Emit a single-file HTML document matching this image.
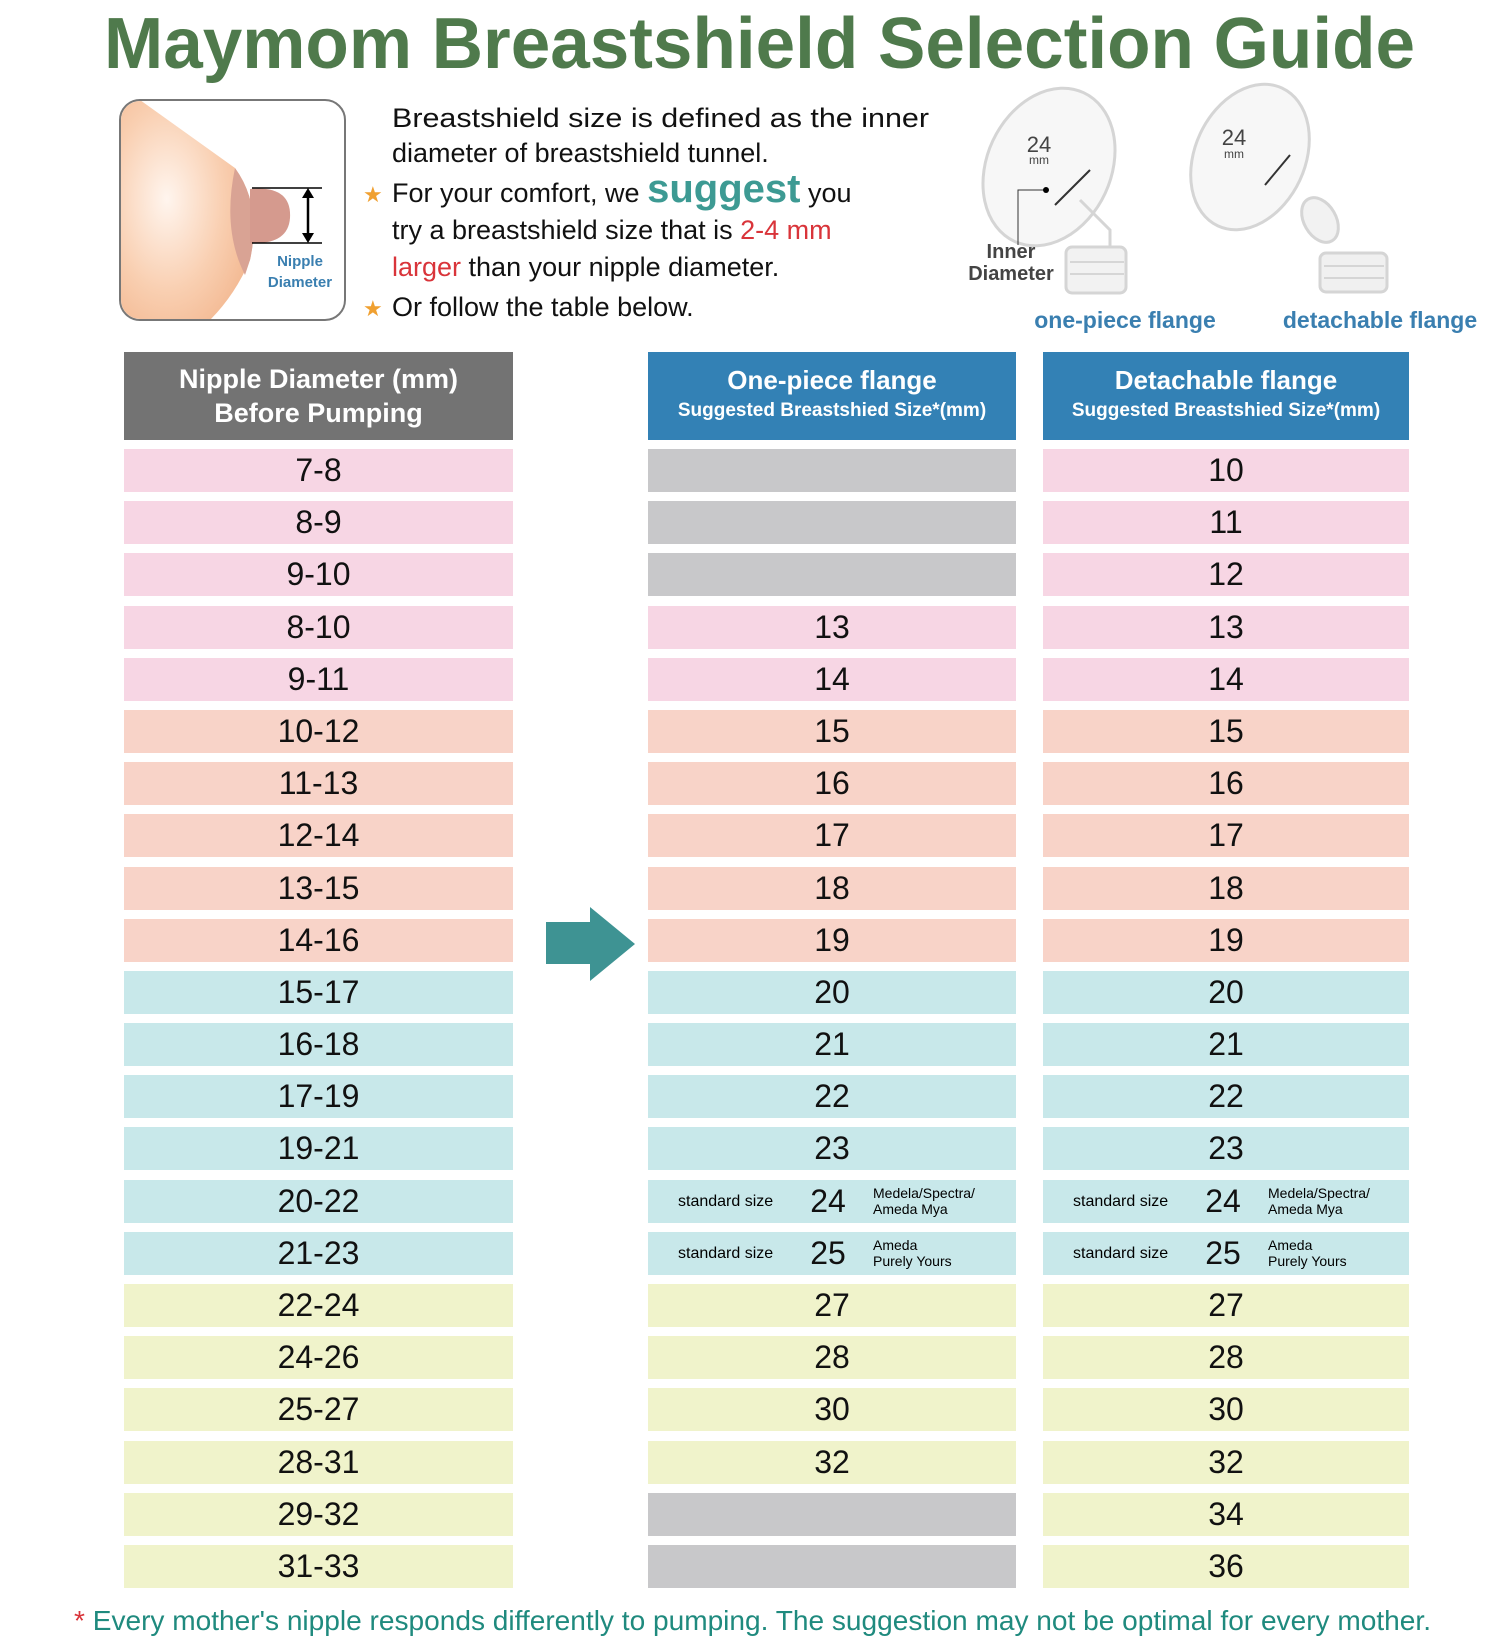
<!DOCTYPE html>
<html><head><meta charset="utf-8"><style>
body{margin:0;width:1500px;height:1645px;background:#fff;position:relative;overflow:hidden;font-family:"Liberation Sans",sans-serif}
.c{position:absolute;height:43px;line-height:43px;text-align:center;font-size:32px;color:#111}
.h{position:absolute;color:#fff;font-weight:bold;text-align:center}
.pk{background:#f7d6e4}.sa{background:#f8d3c8}.bl{background:#c8e8ea}.ye{background:#f0f3cb}.gr{background:#c8c8ca}
.st{position:absolute;font-size:16px;line-height:43px}
.br{position:absolute;font-size:14px;line-height:16px;text-align:left}
</style></head><body>
<svg width="1500" height="345" style="position:absolute;left:0;top:0" xmlns="http://www.w3.org/2000/svg">
<defs>
<radialGradient id="g" cx="0.35" cy="0.45" r="0.7"><stop offset="0" stop-color="#fff5ee"/><stop offset="0.6" stop-color="#f9cfb1"/><stop offset="1" stop-color="#f3b891"/></radialGradient>
</defs>
<text x="104" y="68" textLength="1311" lengthAdjust="spacingAndGlyphs" font-family="Liberation Sans" font-weight="bold" font-size="72" fill="#4f7a4c">Maymom Breastshield Selection Guide</text>
<rect x="120" y="100" width="225" height="220" rx="20" fill="#fff" stroke="#777" stroke-width="2"/>
<clipPath id="cp"><rect x="121" y="101" width="223" height="218" rx="19"/></clipPath>
<g clip-path="url(#cp)">
<path d="M120 100 L140 100 L235 168 Q262 205 250 260 Q235 295 210 320 L120 320 Z" fill="url(#g)"/>
<path d="M235 168 Q262 205 250 260 L245 275 Q222 230 235 168 Z" fill="#d9a394"/>
<path d="M250 189 Q292 185 290 218 Q288 245 250 243 Z" fill="#d59a8e"/>
</g>
<line x1="252" y1="188" x2="322" y2="188" stroke="#000" stroke-width="1.5"/>
<line x1="252" y1="243" x2="322" y2="243" stroke="#000" stroke-width="1.5"/>
<line x1="308" y1="194" x2="308" y2="237" stroke="#000" stroke-width="2.5"/>
<path d="M302 198 L308 188 L314 198 Z M302 233 L308 243 L314 233 Z"/>
<text x="300" y="266" text-anchor="middle" font-size="15" font-weight="bold" fill="#3a7fb0">Nipple</text>
<text x="300" y="287" text-anchor="middle" font-size="15" font-weight="bold" fill="#3a7fb0">Diameter</text>
<g font-size="27" fill="#111">
<text x="392" y="127" textLength="537" lengthAdjust="spacingAndGlyphs">Breastshield size is defined as the inner</text>
<text x="392" y="162">diameter of breastshield tunnel.</text>
<text x="363" y="202" font-size="22" fill="#f0a030">★</text>
<text x="392" y="202">For your comfort, we <tspan font-size="40" font-weight="bold" fill="#3d9a93">suggest</tspan> you</text>
<text x="392" y="239">try a breastshield size that is <tspan fill="#d9343a">2-4 mm</tspan></text>
<text x="392" y="276"><tspan fill="#d9343a">larger</tspan> than your nipple diameter.</text>
<text x="363" y="316" font-size="22" fill="#f0a030">★</text>
<text x="392" y="316">Or follow the table below.</text>
</g>
<g fill="none" stroke="#d5d5d5" stroke-width="3">
<ellipse cx="1049" cy="167" rx="62" ry="82" transform="rotate(25 1049 167)" fill="#f7f7f7"/>
<path d="M1080 200 L1110 230 L1110 250"/>
<rect x="1066" y="247" width="60" height="46" rx="6" fill="#f2f2f2"/>
<ellipse cx="1250" cy="157" rx="55" ry="76" transform="rotate(25 1250 157)" fill="#f7f7f7"/>
<ellipse cx="1320" cy="220" rx="16" ry="24" transform="rotate(-30 1320 220)" fill="#f2f2f2"/>
<rect x="1320" y="253" width="67" height="39" rx="6" fill="#f0f0f0"/>
</g>
<g stroke="#ccc" stroke-width="1.5"><line x1="1070" y1="262" x2="1124" y2="262"/><line x1="1070" y1="274" x2="1124" y2="274"/><line x1="1324" y1="266" x2="1384" y2="266"/><line x1="1324" y1="278" x2="1384" y2="278"/></g>
<text x="1039" y="152" text-anchor="middle" font-size="22" fill="#444">24</text>
<text x="1039" y="164" text-anchor="middle" font-size="12" fill="#444">mm</text>
<text x="1234" y="145" text-anchor="middle" font-size="22" fill="#444">24</text>
<text x="1234" y="158" text-anchor="middle" font-size="12" fill="#444">mm</text>
<line x1="1055" y1="205" x2="1090" y2="170" stroke="#333" stroke-width="2"/>
<line x1="1265" y1="185" x2="1290" y2="155" stroke="#333" stroke-width="2"/>
<path d="M1045 190 L1018 190 L1018 245" fill="none" stroke="#333" stroke-width="1"/><circle cx="1046" cy="190" r="3"/>
<text x="1011" y="258" text-anchor="middle" font-size="20" font-weight="bold" fill="#444">Inner</text>
<text x="1011" y="280" text-anchor="middle" font-size="20" font-weight="bold" fill="#444">Diameter</text>
<text x="1125" y="328" text-anchor="middle" font-size="23" font-weight="bold" fill="#3a7fb0">one-piece flange</text>
<text x="1380" y="328" text-anchor="middle" font-size="23" font-weight="bold" fill="#3a7fb0">detachable flange</text>
</svg>

<div class="h" style="left:124px;top:352px;width:389px;height:88px;background:#737373;font-size:27px;line-height:34px;padding-top:10px;box-sizing:border-box">Nipple Diameter (mm)<br>Before Pumping</div>
<div class="h" style="left:648px;top:352px;width:368px;height:88px;background:#3381b5;box-sizing:border-box;padding-top:12px"><div style="font-size:26px;line-height:32px">One-piece flange</div><div style="font-size:19px;line-height:30px">Suggested Breastshied Size*(mm)</div></div>
<div class="h" style="left:1043px;top:352px;width:366px;height:88px;background:#3381b5;box-sizing:border-box;padding-top:12px"><div style="font-size:26px;line-height:32px">Detachable flange</div><div style="font-size:19px;line-height:30px">Suggested Breastshied Size*(mm)</div></div>

<svg width="100" height="80" style="position:absolute;left:540px;top:904px"><path d="M6 18 L50 18 L50 3 L95 40 L50 77 L50 60 L6 60 Z" fill="#3e9393"/></svg>

<div id="t"></div>
<script>
var L=["7-8","8-9","9-10","8-10","9-11","10-12","11-13","12-14","13-15","14-16","15-17","16-18","17-19","19-21","20-22","21-23","22-24","24-26","25-27","28-31","29-32","31-33"];
var O=["","","","13","14","15","16","17","18","19","20","21","22","23","24","25","27","28","30","32","",""];
var D=["10","11","12","13","14","15","16","17","18","19","20","21","22","23","24","25","27","28","30","32","34","36"];
function cls(i){return i<5?"pk":i<10?"sa":i<16?"bl":"ye";}
var h="";
for(var i=0;i<22;i++){
var y=Math.round(449+i*52.19);
h+='<div class="c '+cls(i)+'" style="left:124px;top:'+y+'px;width:389px">'+L[i]+'</div>';
var bd={14:["Medela/Spectra/","Ameda Mya"],15:["Ameda","Purely Yours"]};
[[648,368,O[i]],[1043,366,D[i]]].forEach(function(c){
var k=c[2]===""?"gr":cls(i);
if(bd[i]){
h+='<div class="c '+k+'" style="left:'+c[0]+'px;top:'+y+'px;width:'+c[1]+'px"></div>';
h+='<div class="st" style="left:'+(c[0]+30)+'px;top:'+y+'px">standard size</div>';
h+='<div class="c" style="left:'+(c[0]+155)+'px;top:'+y+'px;width:50px">'+c[2]+'</div>';
h+='<div class="br" style="left:'+(c[0]+225)+'px;top:'+(y+5)+'px">'+bd[i][0]+'<br>'+bd[i][1]+'</div>';
}else h+='<div class="c '+k+'" style="left:'+c[0]+'px;top:'+y+'px;width:'+c[1]+'px">'+c[2]+'</div>';
});}
document.getElementById("t").innerHTML=h;
</script>
<svg width="1500" height="50" style="position:absolute;left:0;top:1600px"><text x="74" y="30" font-size="28" fill="#1f8a7e" textLength="1357" lengthAdjust="spacingAndGlyphs"><tspan fill="#d9343a">*</tspan> Every mother's nipple responds differently to pumping. The suggestion may not be optimal for every mother.</text></svg>
</body></html>
